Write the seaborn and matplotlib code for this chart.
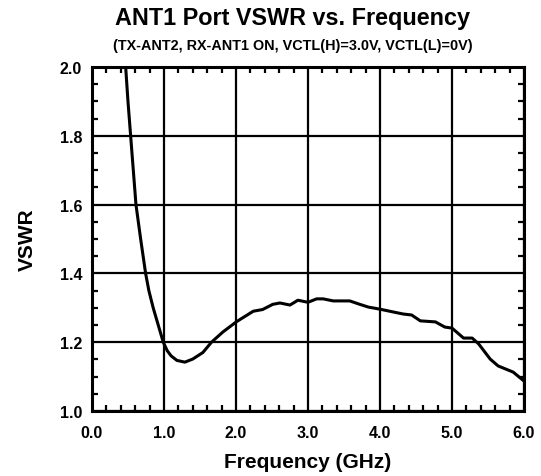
import numpy as np
import pandas as pd
import matplotlib
matplotlib.use("Agg")
import matplotlib.pyplot as plt
import seaborn as sns
from matplotlib.ticker import MultipleLocator, FormatStrFormatter

freq = [0.468, 0.50, 0.537, 0.574, 0.611, 0.676, 0.745, 0.79, 0.85, 0.92, 0.99, 1.046,
        1.10, 1.18, 1.29, 1.40, 1.54, 1.66,
        1.82, 2.01, 2.24, 2.37, 2.51, 2.61, 2.75, 2.86, 3.0, 3.12, 3.21, 3.35,
        3.58, 3.72, 3.84, 4.0, 4.18, 4.32, 4.44, 4.56, 4.77, 4.9, 5.0, 5.16,
        5.28, 5.37, 5.53, 5.64, 5.85, 6.0]
vswr = [2.0, 1.9, 1.8, 1.7, 1.6, 1.5, 1.4, 1.35, 1.3, 1.25, 1.2, 1.175,
        1.16, 1.147, 1.142, 1.151, 1.17, 1.20,
        1.23, 1.26, 1.29, 1.295, 1.31, 1.314, 1.308, 1.322, 1.316, 1.326, 1.326, 1.32,
        1.32, 1.31, 1.302, 1.296, 1.288, 1.282, 1.279, 1.262, 1.259, 1.244, 1.241, 1.212,
        1.212, 1.195, 1.151, 1.131, 1.113, 1.087]

df = pd.DataFrame({"freq": freq, "vswr": vswr})

sns.set_style("ticks")
plt.rcParams["font.family"] = ["Liberation Sans", "DejaVu Sans"]
plt.rcParams["font.weight"] = "bold"
plt.rcParams["text.color"] = "black"
plt.rcParams["axes.labelcolor"] = "black"
plt.rcParams["xtick.color"] = "black"
plt.rcParams["ytick.color"] = "black"

fig = plt.figure(figsize=(5.41, 4.77), dpi=100)
ax = fig.add_axes([0.170, 0.1363, 0.7986, 0.7211])

sns.lineplot(x="freq", y="vswr", data=df, color="black", linewidth=2.2, ax=ax)

ax.set_xlim(0, 6)
ax.set_ylim(1.0, 2.0)
ax.xaxis.set_major_locator(MultipleLocator(1.0))
ax.xaxis.set_minor_locator(MultipleLocator(0.2))
ax.yaxis.set_major_locator(MultipleLocator(0.2))
ax.yaxis.set_minor_locator(MultipleLocator(0.05))
ax.xaxis.set_major_formatter(FormatStrFormatter("%.1f"))
ax.yaxis.set_major_formatter(FormatStrFormatter("%.1f"))
ax.grid(True, which="major", color="black", linewidth=1.6)
ax.tick_params(which="both", direction="in", top=True, right=True, colors="black",
               labelsize=11.5, width=1.6)
ax.tick_params(axis="x", which="major", length=0, pad=10)
ax.tick_params(axis="y", which="major", length=0, pad=7)
ax.tick_params(which="minor", length=4)
for s in ax.spines.values():
    s.set_linewidth(2.2)
    s.set_color("black")

ax.set_xlabel("Frequency (GHz)", fontsize=15, fontweight="bold", va="center")
ax.set_ylabel("VSWR", fontsize=15, fontweight="bold", va="center", ha="center")
ax.xaxis.set_label_coords(0.5, -0.148)
ax.yaxis.set_label_coords(-0.150, 0.5)
fig.text(0.5405, 0.962, "ANT1 Port VSWR vs. Frequency", ha="center", va="center",
         fontsize=16.8, fontweight="bold")
fig.text(0.5405, 0.904, "(TX-ANT2, RX-ANT1 ON, VCTL(H)=3.0V, VCTL(L)=0V)", ha="center",
         va="center", fontsize=10.4, fontweight="bold")

fig.savefig("out.png", dpi=100)
